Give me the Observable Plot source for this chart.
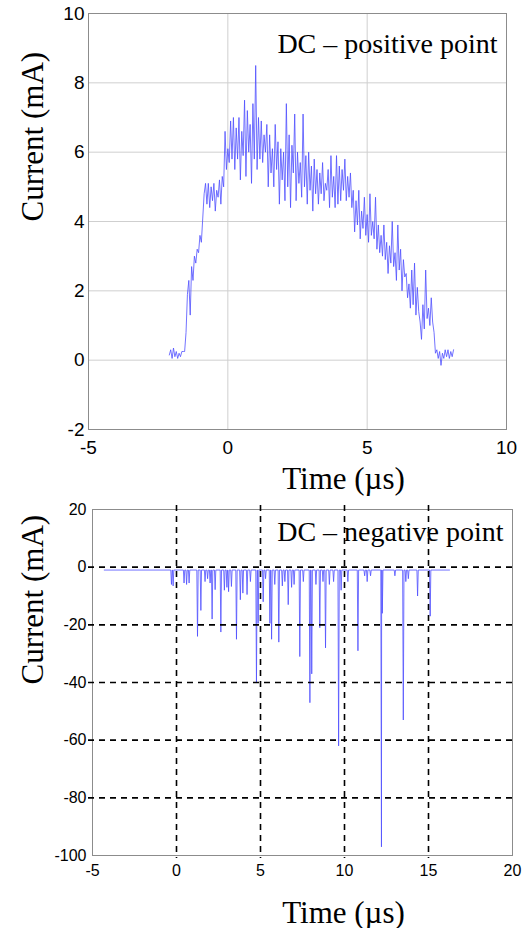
<!DOCTYPE html>
<html><head><meta charset="utf-8">
<script src="https://cdn.jsdelivr.net/npm/d3@7"></script>
<script src="https://cdn.jsdelivr.net/npm/@observablehq/plot@0.6"></script>
<style>
html,body{margin:0;padding:0;background:#fff;}
#chart{width:522px;height:928px;position:relative;overflow:hidden;background:#fff;}
#chart svg{display:block;overflow:visible;}
</style></head><body><div id="chart"></div>
<script>
// ---------- data ----------
const topTitle = "DC – positive point";
const bottomTitle = "DC – negative point";
const xLabel = "Time (\u00b5s)";
const yLabel = "Current (mA)";

const topXTicks = [-5, 0, 5, 10];
const topYTicks = [-2, 0, 2, 4, 6, 8, 10];
const topGridX = [0, 5];
const topGridY = [0, 2, 4, 6, 8];

// positive point current samples (mA), starting at -2.1 µs every 0.05 µs
const topStart = -2.1;
const topStep = 0.05;
const topCurrent = [
  0.15, 0.3, 0.05, 0.35, 0.1, 0.25, 0.05, 0.2, 0.1, 0.25,
  0.25, 0.25, 0.8, 1.9, 2.3, 1.3, 2.7, 2.3, 3.0, 2.8,
  3.2, 3.1, 3.6, 3.4, 4.1, 4.8, 5.1, 4.5, 5.1, 4.4,
  5.0, 4.6, 5.1, 4.3, 4.9, 4.7, 5.2, 4.5, 5.3, 5.0,
  6.6, 5.5, 6.1, 5.7, 6.9, 5.8, 7.0, 5.5, 6.7, 5.8,
  7.0, 5.2, 6.6, 5.9, 7.5, 5.3, 7.2, 6.0, 6.8, 5.1,
  7.4, 5.8, 8.5, 5.5, 7.0, 5.8, 6.9, 5.7, 6.5, 6.0,
  6.8, 5.0, 6.5, 5.4, 6.1, 5.0, 6.8, 5.5, 6.3, 4.5,
  6.1, 5.2, 6.0, 4.6, 7.4, 5.0, 6.5, 4.4, 6.2, 5.4,
  7.1, 4.6, 6.0, 5.1, 5.7, 4.7, 7.1, 5.0, 5.9, 4.5,
  6.0, 4.9, 5.6, 4.3, 5.8, 4.8, 5.5, 4.5, 5.4, 4.8,
  5.7, 4.6, 5.1, 4.9, 5.5, 4.4, 5.9, 4.7, 5.3, 4.4,
  5.9, 4.5, 5.6, 4.6, 5.5, 4.9, 5.8, 4.6, 5.3, 4.7,
  5.4, 4.4, 4.9, 3.7, 4.6, 3.9, 4.9, 3.5, 4.3, 3.8,
  4.7, 3.6, 4.2, 3.4, 4.8, 3.6, 4.0, 3.5, 4.7, 3.2,
  3.9, 3.1, 3.6, 3.0, 3.9, 2.9, 3.4, 2.5, 3.3, 2.8,
  4.0, 2.7, 3.1, 2.3, 3.9, 2.6, 3.2, 2.0, 2.9, 2.4,
  2.5, 1.8, 2.2, 1.5, 2.6, 1.6, 2.8, 1.3, 2.1, 1.4,
  1.1, 0.6, 1.6, 0.9, 2.6, 1.2, 1.5, 1.0, 1.8, 1.1,
  0.8, 0.2, 0.3, 0.05, 0.25, -0.15, 0.2, 0.05, 0.3, 0.1,
  0.3, 0.05, 0.25, 0.1, 0.3
];

const bottomXTicks = [-5, 0, 5, 10, 15, 20];
const bottomYTicks = [-100, -80, -60, -40, -20, 0, 20];
const bottomGridX = [0, 5, 10, 15];
const bottomGridY = [-80, -60, -40, -20, 0];

// negative point: baseline and current pulses
const negBaseline = -1;
const negStart = -4.3;
const negEnd = 16.25;
const negSpikeTime = [
  -0.3, -0.2, 0.45, 0.6, 0.75, 1.25, 1.45, 1.7, 1.85, 2.0,
  2.12, 2.3, 2.64, 2.85, 3.0, 3.1, 3.27, 3.57, 3.8, 3.95,
  4.2, 4.4, 4.76, 4.86, 5.16, 5.3, 5.56, 5.66, 5.85, 6.09,
  6.3, 6.45, 6.65, 6.85, 7.0, 7.34, 7.55, 7.94, 8.05, 8.3,
  8.53, 8.72, 8.87, 9.1, 9.35, 9.65, 9.8, 10.2, 10.8, 11.2,
  11.35, 11.55, 12.2, 12.25, 13.0, 13.5, 13.65, 13.8, 14.35, 15.1
];
const negSpikeDepth = [
  -6, -6.5, -5.5, -6, -5.5, -24, -15, -5, -4, -5.5,
  -18, -7.8, -22.5, -8, -7, -8.5, -6.7, -25, -11.3, -9,
  -9.5, -5, -40, -19.5, -12, -4, -19.5, -25, -6, -26,
  -6.5, -5, -13, -7, -6, -31, -5, -47, -37, -6,
  -21, -5, -28, -6, -5, -62, -8, -5, -29, -3,
  -5, -3, -97, -16, -3, -53, -5, -4, -10, -17
];

// ---------- build ----------
const sans = "'Liberation Sans', Arial, Helvetica, sans-serif";
const serif = "'Liberation Serif', 'Times New Roman', Times, serif";
const lineColor = "#4f4fff";

const topData = topCurrent.map((v, k) => ({t: topStart + k * topStep, i: v}));

const negData = [{t: negStart, i: negBaseline}];
negSpikeTime.forEach((t, k) => {
  negData.push({t: t - 0.04, i: negBaseline}, {t: t, i: negSpikeDepth[k]}, {t: t + 0.04, i: negBaseline});
});
negData.push({t: negEnd, i: negBaseline});
negData.sort((a, b) => a.t - b.t);

const topPlot = Plot.plot({
  width: 522, height: 500,
  marginLeft: 88, marginRight: 16, marginTop: 13, marginBottom: 71,
  style: {fontFamily: sans, fontSize: "19px", color: "#000", background: "#fff", overflow: "visible"},
  x: {domain: [-5, 10], ticks: topXTicks, tickSize: 0, tickPadding: 11, label: null, tickFormat: d => String(d)},
  y: {domain: [-2, 10], ticks: topYTicks, tickSize: 0, tickPadding: 4, label: null, tickFormat: d => String(d)},
  marks: [
    Plot.ruleX(topGridX, {stroke: "#cfcfcf", strokeWidth: 1}),
    Plot.ruleY(topGridY, {stroke: "#cfcfcf", strokeWidth: 1}),
    Plot.frame({stroke: "#8c8c8c"}),
    Plot.lineY(topData, {x: "t", y: "i", stroke: lineColor, strokeWidth: 0.8}),
    Plot.text([topTitle], {frameAnchor: "top-right", dx: -9, dy: 39, lineAnchor: "bottom", textAnchor: "end", fontFamily: serif, fontSize: 28, fill: "#000"}),
    Plot.text([xLabel], {frameAnchor: "bottom", dx: 46, dy: 59, lineAnchor: "bottom", fontFamily: serif, fontSize: 31, fill: "#000"}),
    Plot.text([yLabel], {frameAnchor: "left", dx: -55, rotate: -90, fontFamily: serif, fontSize: 31, fill: "#000"})
  ]
});

const bottomPlot = Plot.plot({
  width: 522, height: 428,
  marginLeft: 92, marginRight: 10, marginTop: 9, marginBottom: 73,
  style: {fontFamily: sans, fontSize: "16px", color: "#000", background: "#fff", overflow: "visible"},
  x: {domain: [-5, 20], ticks: bottomXTicks, tickSize: 0, tickPadding: 9, label: null, tickFormat: d => String(d)},
  y: {domain: [-100, 20], ticks: bottomYTicks, tickSize: 0, tickPadding: 6, label: null, tickFormat: d => String(d)},
  marks: [
    Plot.frame({stroke: "#8c8c8c"}),
    Plot.lineY(negData, {x: "t", y: "i", stroke: lineColor, strokeWidth: 0.8}),
    Plot.ruleX(bottomGridX, {stroke: "#000", strokeWidth: 1.6, strokeDasharray: "6,5", insetTop: -4, insetBottom: -3}),
    Plot.ruleY(bottomGridY, {stroke: "#000", strokeWidth: 1.6, strokeDasharray: "6,5", insetLeft: -4}),
    Plot.text([bottomTitle], {frameAnchor: "top-right", dx: -9, dy: 31, lineAnchor: "bottom", textAnchor: "end", fontFamily: serif, fontSize: 28, fill: "#000"}),
    Plot.text([xLabel], {frameAnchor: "bottom", dx: 41, dy: 67, lineAnchor: "bottom", fontFamily: serif, fontSize: 31, fill: "#000"}),
    Plot.text([yLabel], {frameAnchor: "left", dx: -59, dy: 2, rotate: -90, fontFamily: serif, fontSize: 31, fill: "#000"})
  ]
});

const chart = document.getElementById("chart");
chart.appendChild(topPlot);
chart.appendChild(bottomPlot);
</script>
</body></html>
